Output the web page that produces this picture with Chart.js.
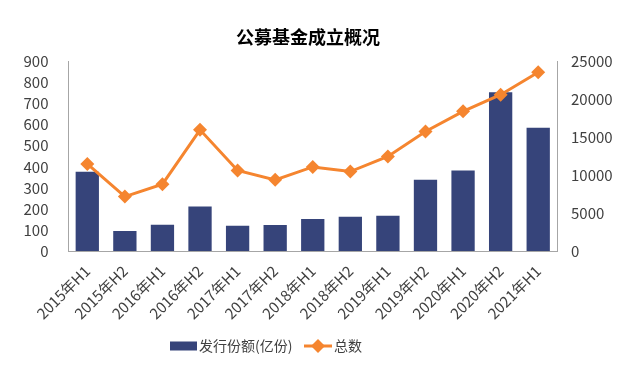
<!DOCTYPE html>
<html>
<head>
<meta charset="utf-8">
<script src="https://cdn.jsdelivr.net/npm/chart.js@4"></script>
<style>
  html, body { margin: 0; padding: 0; background: #fff; }
  #wrap { width: 636px; height: 383px; position: relative; }
</style>
</head>
<body>
<div id="wrap"><canvas id="chart" width="636" height="383"></canvas></div>
<script>
const categories = ['2015年H1','2015年H2','2016年H1','2016年H2','2017年H1','2017年H2','2018年H1','2018年H2','2019年H1','2019年H2','2020年H1','2020年H2','2021年H1'];
const issue_shares = [376, 95, 125, 211, 120, 124, 152, 163, 168, 338, 382, 754, 586];
const fund_count = [11500, 7180, 8820, 16000, 10630, 9390, 11100, 10490, 12480, 15780, 18430, 20630, 23590];
const left_ticks = [0, 100, 200, 300, 400, 500, 600, 700, 800, 900];
const right_ticks = [0, 5000, 10000, 15000, 20000, 25000];

const NAVY = '#36447A';
const ORANGE = '#F5852F';
const FONT = "'Noto Sans CJK SC', 'Noto Sans', sans-serif";

// legend drawn by hand: box for the bars, line + diamond for the count
const hand_legend = {
  id: 'hand_legend',
  afterDraw(chart) {
    let ctx = chart.ctx;
    let y = chart.chartArea.bottom + 95;
    let bars = chart.data.datasets.find(d => d.type != 'line');
    let line = chart.data.datasets.find(d => d.type == 'line');
    ctx.save();
    ctx.fillStyle = NAVY;
    ctx.fillRect(170, y - 4.5, 27, 9);
    ctx.font = '14px ' + FONT;
    ctx.fillStyle = '#404040';
    ctx.textBaseline = 'middle';
    ctx.fillText(bars.label, 199, y);
    ctx.strokeStyle = ORANGE;
    ctx.lineWidth = 3;
    ctx.beginPath();
    ctx.moveTo(304, y);
    ctx.lineTo(332, y);
    ctx.stroke();
    ctx.fillStyle = ORANGE;
    ctx.beginPath();
    ctx.moveTo(318, y - 7);
    ctx.lineTo(325, y);
    ctx.lineTo(318, y + 7);
    ctx.lineTo(311, y);
    ctx.closePath();
    ctx.fill();
    ctx.fillStyle = '#404040';
    ctx.fillText(line.label, 334, y);
    ctx.restore();
  }
};

new Chart(document.getElementById('chart'), {
  type: 'bar',
  data: {
    labels: categories,
    datasets: [
      {
        type: 'line',
        label: '总数',
        data: fund_count,
        yAxisID: 'y1',
        borderColor: ORANGE,
        backgroundColor: ORANGE,
        borderWidth: 3,
        pointStyle: 'rectRot',
        pointRadius: 7,
        pointBorderWidth: 0,
        tension: 0,
        order: 0
      },
      {
        type: 'bar',
        label: '发行份额(亿份)',
        data: issue_shares,
        yAxisID: 'y',
        backgroundColor: NAVY,
        barPercentage: 0.62,
        categoryPercentage: 1,
        order: 1
      }
    ]
  },
  options: {
    responsive: false,
    animation: false,
    layout: { padding: { left: 0, right: 20, top: 0, bottom: 57 } },
    plugins: {
      legend: { display: false },
      tooltip: { enabled: false },
      title: {
        display: true,
        text: '公募基金成立概况',
        color: '#000',
        font: { family: FONT, size: 18, weight: 'bold' },
        padding: { top: 26, bottom: 14 }
      }
    },
    scales: {
      x: {
        grid: { display: false, drawTicks: false },
        border: { display: true, color: '#A6A6A6', width: 1 },
        ticks: { color: '#404040', font: { family: FONT, size: 15 }, minRotation: 45, maxRotation: 45, padding: 11 },
        afterFit: s => { s.height = 75; }
      },
      y: {
        position: 'left',
        min: 0, max: 900,
        afterBuildTicks: s => { s.ticks = left_ticks.map(v => ({ value: v })); },
        grid: { display: false, drawTicks: false },
        border: { display: true, color: '#A6A6A6', width: 1 },
        ticks: { color: '#404040', font: { family: FONT, size: 15 }, padding: 20, callback: v => String(v) },
        afterFit: s => { s.width = 68.5; }
      },
      y1: {
        position: 'right',
        min: 0, max: 25000,
        afterBuildTicks: s => { s.ticks = right_ticks.map(v => ({ value: v })); },
        grid: { display: false, drawTicks: false },
        border: { display: true, color: '#A6A6A6', width: 1 },
        ticks: { color: '#404040', font: { family: FONT, size: 15 }, padding: 14, callback: v => String(v) },
        afterFit: s => { s.width = 59; }
      }
    }
  },
  plugins: [hand_legend]
});
</script>
</body>
</html>
